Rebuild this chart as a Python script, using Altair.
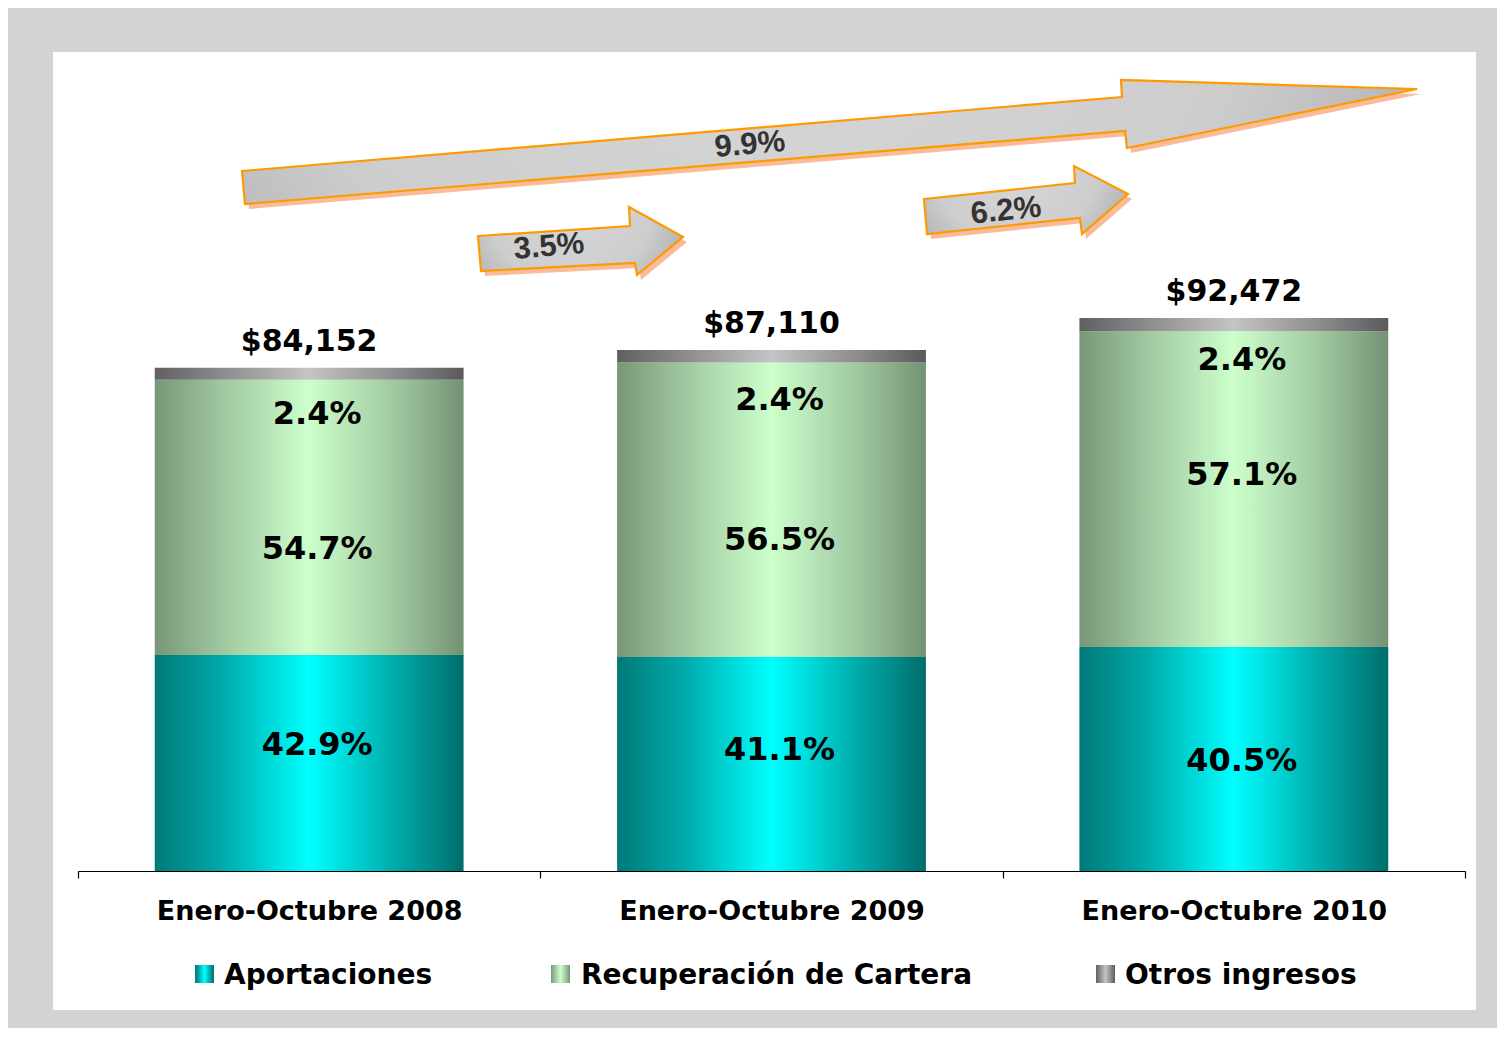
import altair as alt
import pandas as pd

# ---------------- data ----------------
periods = ["Enero-Octubre 2008", "Enero-Octubre 2009", "Enero-Octubre 2010"]
totals = [84152, 87110, 92472]
total_labels = ["$84,152", "$87,110", "$92,472"]
series = ["Aportaciones", "Recuperación de Cartera", "Otros ingresos"]
pct_aport = [42.9, 41.1, 40.5]
pct_recup = [54.7, 56.5, 57.1]
pct_otros = [2.4, 2.4, 2.4]
growth_labels = ["3.5%", "6.2%", "9.9%"]

# ---------------- layout / style constants ----------------
FONT = "DejaVu Sans"
NARROW = "Liberation Sans"
nudge_aport = [-18, -14, 2]
nudge_recup = [32, 30, -14]
nudge_otros = [34, 37, 29]


def hgrad(edge_l, mid, center, edge_r):
    return {"gradient": "linear", "x1": 0, "y1": 0, "x2": 1, "y2": 0,
            "stops": [{"offset": 0, "color": edge_l},
                      {"offset": 0.22, "color": mid},
                      {"offset": 0.5, "color": center},
                      {"offset": 0.78, "color": mid},
                      {"offset": 1, "color": edge_r}]}


grad = {
    "Aportaciones": hgrad("#007a78", "#00aaaa", "#00ffff", "#006e6b"),
    "Recuperación de Cartera": hgrad("#789778", "#a0c8a0", "#ccffcc", "#749274"),
    "Otros ingresos": hgrad("#606060", "#8c8c8c", "#c4c4c4", "#5a5a5a"),
}

arrow_grad = {"gradient": "radial", "x1": 0.45, "y1": 0.3, "r1": 0,
              "x2": 0.45, "y2": 0.3, "r2": 0.75,
              "stops": [{"offset": 0, "color": "#d8d8d8"},
                        {"offset": 0.55, "color": "#cdcdcd"},
                        {"offset": 1, "color": "#9c9c9c"}]}

# ---------------- table ----------------
rows = []
for i, p in enumerate(periods):
    start = 0.0
    for s, pcts in zip(series, [pct_aport, pct_recup, pct_otros]):
        v = totals[i] * pcts[i] / 100.0
        rows.append({"period": p, "series": s, "y0": start, "y1": start + v,
                     "mid": start + v / 2, "label": f"{pcts[i]:.1f}%", "i": i})
        start += v
df = pd.DataFrame(rows)
tot_df = pd.DataFrame({"period": periods, "total": totals, "tlabel": total_labels})

x_enc = alt.X("period:N", sort=periods,
              scale=alt.Scale(paddingInner=0, paddingOuter=0),
              axis=alt.Axis(title=None, labelAngle=0, tickBand="extent",
                            domainColor="black", domainWidth=1.2,
                            tickColor="black", tickSize=7, tickWidth=1.2,
                            labelFont=FONT, labelFontWeight="bold",
                            labelFontSize=27, labelColor="black", labelLimit=0,
                            labelPadding=20, zindex=1))
y_scale = alt.Scale(domain=[0, 100000])

layers = []

# white panel
layers.append(alt.Chart(pd.DataFrame({"a": [0]})).mark_rect(color="white").encode(
    x=alt.value(-25), x2=alt.value(1398), y=alt.value(-221), y2=alt.value(737)))

# bars
for s in series:
    layers.append(
        alt.Chart(df[df.series == s]).mark_bar(
            fill=grad[s], width=alt.RelativeBandSize(0.668), opacity=1
        ).encode(
            x=x_enc,
            y=alt.Y("y0:Q", scale=y_scale, axis=None),
            y2="y1:Q",
        )
    )

# segment labels
nudges = {"Aportaciones": nudge_aport, "Recuperación de Cartera": nudge_recup,
          "Otros ingresos": nudge_otros}
for _, r in df.iterrows():
    field = "y0:Q" if r["series"] == "Otros ingresos" else "mid:Q"
    layers.append(
        alt.Chart(df[(df.period == r["period"]) & (df.series == r["series"])]).mark_text(
            font=FONT, fontWeight="bold", fontSize=32, color="black",
            baseline="middle", align="center", dx=8, dy=nudges[r["series"]][r["i"]]
        ).encode(x=x_enc, y=alt.Y(field, scale=y_scale, axis=None), text="label:N")
    )

# totals
layers.append(
    alt.Chart(tot_df).mark_text(font=FONT, fontWeight="bold", fontSize=30, color="black",
                                baseline="middle", align="center", dy=-26)
    .encode(x=x_enc, y=alt.Y("total:Q", scale=y_scale, axis=None), text="tlabel:N")
)

# growth arrows (decorations)
arrow_paths = [
    "M400,-37 L552,-47 L551,-66 L605,-36 L559,2 L557,-10 L403,-2 Z",
    "M846,-74 L997,-90 L996,-107 L1050,-79 L1004,-39 L1002,-55 L849,-39 Z",
    "M164,-102 L1044,-176 L1043,-193 L1339,-184 L1049,-125 L1047,-142 L167,-69 Z",
]
arrow_text_pos = [(471, -26, 355), (928, -62, 354), (672, -128, 355)]
one = pd.DataFrame({"a": [0]})
for k, path in enumerate(arrow_paths):
    layers.append(alt.Chart(one).mark_point(
        shape=path, size=4, filled=True, fill="#f8b088", strokeOpacity=0, opacity=0.85
    ).encode(x=alt.value(4), y=alt.value(5)))
    layers.append(alt.Chart(one).mark_point(
        shape=path, size=4, filled=True, fill=arrow_grad, stroke="#ff9900",
        strokeWidth=2.2, opacity=1, strokeOpacity=1, fillOpacity=1
    ).encode(x=alt.value(0), y=alt.value(0)))
for g, (tx, ty, ang) in zip(growth_labels, arrow_text_pos):
    layers.append(alt.Chart(pd.DataFrame({"g": [g]})).mark_text(
        font=NARROW, fontWeight="bold", fontSize=31, color="#333333",
        angle=ang, align="center", baseline="middle"
    ).encode(x=alt.value(tx), y=alt.value(ty), text="g:N"))

# legend (manual, gradient swatches)
legend_pos = [(117, 146), (473, 503), (1018, 1047)]
for s, (sx, tx) in zip(series, legend_pos):
    layers.append(alt.Chart(one).mark_rect(fill=grad[s], opacity=1).encode(
        x=alt.value(sx), x2=alt.value(sx + 19), y=alt.value(692), y2=alt.value(710)))
    layers.append(alt.Chart(pd.DataFrame({"s": [s]})).mark_text(
        font=FONT, fontWeight="bold", fontSize=28, color="black",
        align="left", baseline="middle"
    ).encode(x=alt.value(tx), y=alt.value(703), text="s:N"))

chart = alt.layer(*layers).properties(
    width=1387, height=598,
    autosize=alt.AutoSizeParams(type="none"),
    padding={"left": 70, "top": 265, "right": 32, "bottom": 157},
    background="#d3d3d3",
).configure_view(stroke="transparent")

chart.save("out.html", embed_options={"renderer": "svg", "actions": False})
